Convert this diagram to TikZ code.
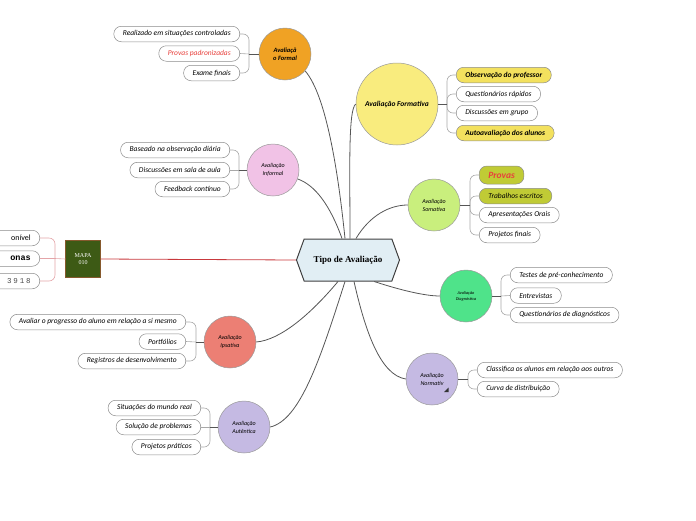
\documentclass[tikz,border=0pt]{standalone}
\usepackage{fontspec}
\setmainfont{Carlito}
\newfontfamily\rootfont{Liberation Serif}
\newfontfamily\monofont{Liberation Mono}
\newfontfamily\widemono[LetterSpace=25]{Liberation Mono}
\usepackage{tikz}
\usetikzlibrary{shapes.symbols}

\definecolor{rootblue}{HTML}{E1EEF4}
\definecolor{linkgray}{HTML}{555555}
\definecolor{bracegray}{HTML}{A8A8A8}
\definecolor{mapgreen}{HTML}{3D5A15}
\definecolor{mapred}{HTML}{C8383C}
\definecolor{mappink}{HTML}{E4A4A8}
\definecolor{cformal}{HTML}{F0A224}
\definecolor{cformativa}{HTML}{F9EC7E}
\definecolor{cinformal}{HTML}{F1C2E6}
\definecolor{csomativa}{HTML}{C9EF7D}
\definecolor{cdiag}{HTML}{4FE38A}
\definecolor{clilac}{HTML}{C5BAE3}
\definecolor{cipsativa}{HTML}{EC7F74}
\definecolor{pillyellow}{HTML}{F3E15E}
\definecolor{pillolive}{HTML}{C0CB35}
\definecolor{txtred}{HTML}{E8403C}

\begin{document}
\begin{tikzpicture}[x=1pt,y=-1pt,
  root/.style={draw=black!75,line width=1pt,fill=rootblue,signal,signal to=west and east,
    signal pointer angle=140,minimum width=103pt,minimum height=42pt,inner sep=0pt,
    font=\rootfont\bfseries\fontsize{9}{10}\selectfont},
  topic/.style={circle,draw=black!40,line width=0.5pt,align=center,inner sep=0pt,
    font=\itshape\bfseries\fontsize{6.5}{8}\selectfont},
  leaf/.style={draw=black!45,line width=0.5pt,rounded corners=7.5pt,fill=white,
    minimum height=15.5pt,inner xsep=9pt,inner ysep=0pt,font=\itshape\fontsize{7.5}{8}\selectfont},
  link/.style={draw=linkgray,line width=0.8pt},
  brace/.style={draw=bracegray,line width=0.6pt,rounded corners=6pt},
  stem/.style={draw=linkgray,line width=1pt}
]
\useasboundingbox (0,0) rectangle (696,520);

% centre
\node[root] (tipo) at (348,260) {Tipo de Avaliação};

% map box and its cut-off entries
\node[draw=brown!70!black,fill=mapgreen,minimum width=35pt,minimum height=37pt,align=center,
  inner sep=0pt,text=white,font=\rootfont\fontsize{6}{7}\selectfont] (mapa) at (83,259) {MAPA\\010};
\begin{scope}
\clip (0,0) rectangle (696,520);
\node[leaf,anchor=east,text width=60pt,align=right,font=\fontsize{8}{9}\selectfont] (m1) at (40,238) {onível};
\node[leaf,anchor=east,text width=60pt,align=right,font=\monofont\bfseries\fontsize{8.5}{9}\selectfont] (m2) at (40,258.5) {onas};
\node[leaf,anchor=east,text width=60pt,align=right,font=\widemono\fontsize{7.5}{9}\selectfont,text=black!70] (m3) at (40,281) {3918};
\end{scope}
\coordinate (mj) at (55,258.5);
\draw[brace,draw=mappink] (m1.east) -| (mj);
\draw[brace,draw=mappink] (m3.east) -| (mj);
\draw[draw=mappink,line width=0.6pt] (m2.east) -- (mj) -- (mapa.west);
\draw[draw=mapred,line width=0.8pt] (mapa.east) -- (tipo.west);

% topics
\node[topic,fill=cformal,minimum size=52pt] (formal) at (285,54) {Avaliaçã\\o Formal};
\node[topic,fill=cformativa,minimum size=82pt,font=\itshape\bfseries\fontsize{7.5}{9}\selectfont] (formativa) at (397,104) {Avaliação Formativa};
\node[topic,fill=cinformal,minimum size=52pt,font=\itshape\fontsize{6}{8}\selectfont] (informal) at (273,170) {Avaliação\\Informal};
\node[topic,fill=csomativa,minimum size=52pt,font=\itshape\fontsize{6}{8}\selectfont] (somativa) at (434,205) {Avaliação\\Somativa};
\node[topic,fill=cdiag,minimum size=52pt,font=\itshape\fontsize{4.3}{6}\selectfont] (diag) at (466,296) {Avaliação\\Diagnóstica};
\node[topic,fill=clilac,minimum size=52pt,font=\itshape\fontsize{6}{8}\selectfont] (normativa) at (432,379) {Avaliação\\Normativ};
\node[topic,fill=cipsativa,minimum size=52pt,font=\itshape\fontsize{6}{8}\selectfont] (ipsativa) at (230,342) {Avaliação\\Ipsativa};
\node[topic,fill=clilac,minimum size=52pt,font=\itshape\fontsize{6}{8}\selectfont] (autentica) at (244,427) {Avaliação\\Autêntica};
\fill[black!80] (448.5,387.5) -- (448.5,392) -- (444,392) -- cycle;

% main links
\draw[link] (tipo.north) ++(-3,0) .. controls (338,170) and (326,95) .. (formal.-40);
\draw[link] (tipo.north) ++(2,0) .. controls (350,170) and (348,110) .. (formativa.west);
\draw[link] (tipo.north) ++(-6,0) .. controls (330,205) and (315,185) .. (informal.-20);
\draw[link] (tipo.north) ++(8,0) .. controls (370,215) and (390,205) .. (somativa.west);
\draw[link] (tipo.south east) ++(-18,0) .. controls (400,290) and (425,296) .. (diag.west);
\draw[link] (tipo.south) ++(6,0) .. controls (365,330) and (380,375) .. (normativa.west);
\draw[link] (tipo.south) ++(-10,0) .. controls (310,315) and (280,340) .. (ipsativa.east);
\draw[link] (tipo.south) ++(-3,0) .. controls (320,360) and (300,420) .. (autentica.east);

% formal
\node[leaf,anchor=east] (f1) at (240,34) {Realizado em situações controladas};
\node[leaf,anchor=east,text=txtred] (f2) at (240,53.5) {Provas padronizadas};
\node[leaf,anchor=east] (f3) at (240,73) {Exame finais};
\coordinate (fj) at (249,54);
\draw[brace] (f1.east) -| (fj);
\draw[brace] (f3.east) -| (fj);
\draw[brace] (f2.east) -- (fj);
\draw[stem] (fj) -- (formal.west);

% formativa
\node[leaf,anchor=west,fill=pillyellow,font=\itshape\bfseries\fontsize{7.5}{8}\selectfont] (fo1) at (456,75) {Observação do professor};
\node[leaf,anchor=west] (fo2) at (456,94) {Questionários rápidos};
\node[leaf,anchor=west] (fo3) at (456,113) {Discussões em grupo};
\node[leaf,anchor=west,fill=pillyellow,font=\itshape\bfseries\fontsize{7.5}{8}\selectfont] (fo4) at (456,133) {Autoavaliação dos alunos};
\coordinate (foj) at (447,104);
\foreach \c in {fo1,fo2,fo3,fo4} \draw[brace] (\c.west) -| (foj);
\draw[stem] (foj) -- (formativa.east);

% informal
\node[leaf,anchor=east] (i1) at (230,150) {Baseado na observação diária};
\node[leaf,anchor=east] (i2) at (230,170) {Discussões em sala de aula};
\node[leaf,anchor=east] (i3) at (230,189) {Feedback contínuo};
\coordinate (ij) at (239,170);
\draw[brace] (i1.east) -| (ij);
\draw[brace] (i3.east) -| (ij);
\draw[brace] (i2.east) -- (ij);
\draw[stem] (ij) -- (informal.west);

% somativa
\node[leaf,anchor=west,fill=pillolive,text=txtred,minimum height=18pt,font=\itshape\bfseries\fontsize{9.5}{10}\selectfont] (s1) at (479,175) {Provas};
\node[leaf,anchor=west,fill=pillolive] (s2) at (479,196) {Trabalhos escritos};
\node[leaf,anchor=west] (s3) at (479,215) {Apresentações Orais};
\node[leaf,anchor=west] (s4) at (479,235) {Projetos finais};
\coordinate (sj) at (470,205);
\foreach \c in {s1,s2,s3,s4} \draw[brace] (\c.west) -| (sj);
\draw[stem] (sj) -- (somativa.east);

% diagnostica
\node[leaf,anchor=west] (d1) at (510,275) {Testes de pré-conhecimento};
\node[leaf,anchor=west] (d2) at (510,295.5) {Entrevistas};
\node[leaf,anchor=west] (d3) at (510,315) {Questionários de diagnósticos};
\coordinate (dj) at (501,296);
\draw[brace] (d1.west) -| (dj);
\draw[brace] (d3.west) -| (dj);
\draw[brace] (d2.west) -- (dj);
\draw[stem] (dj) -- (diag.east);

% normativa
\node[leaf,anchor=west] (n1) at (477,370) {Classifica os alunos em relação aos outros};
\node[leaf,anchor=west] (n2) at (477,389) {Curva de distribuição};
\coordinate (nj) at (468,379);
\draw[brace] (n1.west) -| (nj);
\draw[brace] (n2.west) -| (nj);
\draw[stem] (nj) -- (normativa.east);

% ipsativa
\node[leaf,anchor=east] (p1) at (186,322) {Avaliar o progresso do aluno em relação a si mesmo};
\node[leaf,anchor=east] (p2) at (186,341.5) {Portfólios};
\node[leaf,anchor=east] (p3) at (186,361) {Registros de desenvolvimento};
\coordinate (pj) at (196,342);
\draw[brace] (p1.east) -| (pj);
\draw[brace] (p3.east) -| (pj);
\draw[brace] (p2.east) -- (pj);
\draw[stem] (pj) -- (ipsativa.west);

% autentica
\node[leaf,anchor=east] (a1) at (201,408) {Situações do mundo real};
\node[leaf,anchor=east] (a2) at (201,427) {Solução de problemas};
\node[leaf,anchor=east] (a3) at (201,447) {Projetos práticos};
\coordinate (aj) at (210,427);
\draw[brace] (a1.east) -| (aj);
\draw[brace] (a3.east) -| (aj);
\draw[brace] (a2.east) -- (aj);
\draw[stem] (aj) -- (autentica.west);
\end{tikzpicture}
\end{document}
